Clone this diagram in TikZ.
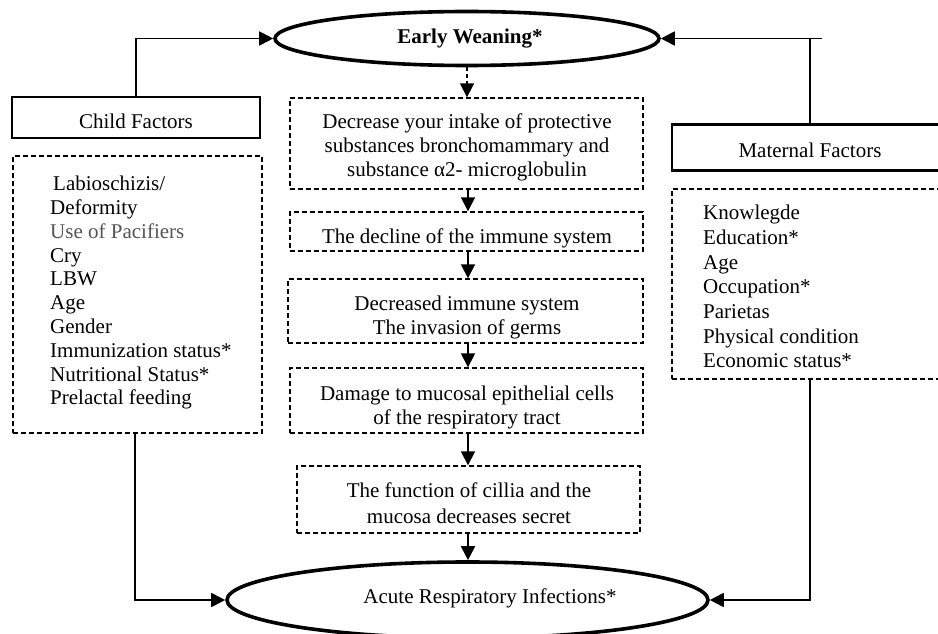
\documentclass[tikz,border=0pt]{standalone}
\usepackage{fontspec}
\setmainfont{Liberation Serif}
\usetikzlibrary{shapes.geometric,arrows.meta}
\definecolor{softgray}{HTML}{555555}
\begin{document}
\begin{tikzpicture}[x=1pt,y=-1pt,
  font=\fontsize{21}{24}\selectfont,
  dbox/.style={draw, dash pattern=on 5pt off 3pt, line width=1.4pt, inner sep=0pt},
  sbox/.style={draw, line width=2.6pt, inner sep=0pt},
  ell/.style={draw, ellipse, line width=3.6pt, inner sep=0pt},
  conn/.style={line width=1.8pt, -{Triangle[length=14pt,width=14pt]}},
  plain/.style={inner sep=0pt, align=left},
  ctext/.style={inner sep=0pt, align=center}]
\useasboundingbox (0,0) rectangle (938,634);
\clip (0,0) rectangle (938,634);
\fill[white] (0,0) rectangle (938,634);

% ellipses
\node[ell, minimum width=384pt, minimum height=54pt] (ew) at (467,38.5) {};
\node[ctext, font=\fontsize{21}{24}\selectfont\bfseries] (ewt) at (470,39) {Early Weaning*};
\node[ell, minimum width=481pt, minimum height=76pt] (ari) at (467.5,600) {};
\node[plain] (arit) at (490,598) {Acute Respiratory Infections*};

% child side
\node[sbox, minimum width=248pt, minimum height=41pt] (cf) at (136,117.5) {};
\node[ctext] (cft) at (136,121) {Child Factors};
\node[dbox, minimum width=249pt, minimum height=277pt] (cl) at (137.5,294.5) {};
\node[plain, anchor=north west, font=\fontsize{21}{23.8}\selectfont] (clt) at (50,176) {%
\hspace*{3pt}Labioschizis/\\
Deformity\\
\textcolor{softgray}{Use of Pacifiers}\\
Cry\\
LBW\\
Age\\
Gender\\
Immunization status*\\
Nutritional Status*\\
Prelactal feeding};

% maternal side
\node[sbox, minimum width=276pt, minimum height=46pt] (mf) at (810,147.5) {};
\node[ctext] (mft) at (810,150) {Maternal Factors};
\node[dbox, minimum width=276pt, minimum height=190pt] (ml) at (810,284) {};
\node[plain, anchor=north west, font=\fontsize{21}{24.7}\selectfont] (mlt) at (703,205) {%
Knowlegde\\
Education*\\
Age\\
Occupation*\\
Parietas\\
Physical condition\\
Economic status*};

% center chain
\node[dbox, minimum width=353pt, minimum height=91pt] (b1) at (466.5,143.5) {};
\node[ctext] (b1t) at (467,147.5) {Decrease your intake of protective\\substances bronchomammary and\\substance α2- microglobulin};
\node[dbox, minimum width=353pt, minimum height=39pt] (b2) at (466.5,231.5) {};
\node[ctext] (b2t) at (467,238.5) {The decline of the immune system};
\node[dbox, minimum width=355pt, minimum height=64pt] (b3) at (465.5,311) {};
\node[ctext, font=\fontsize{21}{24.5}\selectfont] (b3t) at (467,317.5) {Decreased immune system\\The invasion of germs};
\node[dbox, minimum width=353pt, minimum height=65pt] (b4) at (466.5,400.5) {};
\node[ctext, font=\fontsize{21}{24.5}\selectfont] (b4t) at (467,407.5) {Damage to mucosal epithelial cells\\of the respiratory tract};
\node[dbox, minimum width=343pt, minimum height=67pt] (b5) at (468.5,499.5) {};
\node[ctext, font=\fontsize{21}{26}\selectfont] (b5t) at (469,503.5) {The function of cillia and the\\mucosa decreases secret};

% connectors
\coordinate (mr) at (822,38.5);
\draw[conn] (cf.north) |- (ew.west);
\draw[line width=1.8pt] (mf.north) -- (mf.north |- mr);
\draw[conn] (mr) -- (ew.east);
\draw[conn, dash pattern=on 4pt off 3pt] (ew.south) -- (ew.south |- b1.north);
\draw[conn] (b1.south -| 468,0) -- (b2.north -| 468,0);
\draw[conn] (b2.south -| 468,0) -- (b3.north -| 468,0);
\draw[conn] (b3.south -| 468,0) -- (b4.north -| 468,0);
\draw[conn] (b4.south -| 468,0) -- (b5.north -| 468,0);
\draw[conn] (b5.south -| 468,0) -- (ari.north -| 468,0);
\draw[conn] (cl.south -| 135,0) |- (ari.west);
\draw[conn] (ml.south) |- (ari.east);
\end{tikzpicture}
\end{document}
